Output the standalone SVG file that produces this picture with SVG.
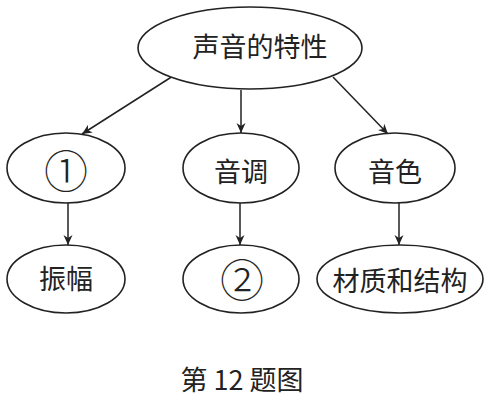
<svg xmlns="http://www.w3.org/2000/svg" width="490" height="397" viewBox="0 0 490 397">
<defs>
<style>
.n{fill:#fff;stroke:#222;stroke-width:1.6}
.t{font-family:"Noto Sans CJK SC","Noto Sans CJK JP",sans-serif;font-size:27px;fill:#222;text-anchor:middle;dominant-baseline:central}
.k{font-family:"Noto Sans CJK SC","Noto Sans CJK JP",sans-serif;font-size:44px;font-weight:300;fill:#222;text-anchor:middle;dominant-baseline:central}
.c{stroke:#222;stroke-width:1.5;fill:none;marker-end:url(#ah)}
</style>
<marker id="ah" viewBox="0 0 10 10" refX="10" refY="5" markerWidth="10" markerHeight="10" markerUnits="userSpaceOnUse" orient="auto">
<path d="M0,0.5 L10,5 L0,9.5 L3,5 Z" fill="#222"/>
</marker>
</defs>
<rect width="490" height="397" fill="#fff"/>
<g id="connectors">
<line class="c" x1="173" y1="76" x2="82" y2="134"/>
<line class="c" x1="241" y1="90" x2="241" y2="133"/>
<line class="c" x1="333" y1="77" x2="388" y2="134"/>
<line class="c" x1="68" y1="203" x2="68" y2="245"/>
<line class="c" x1="240" y1="203" x2="240" y2="245"/>
<line class="c" x1="399" y1="203" x2="399" y2="245"/>
</g>
<g id="root"><ellipse class="n" cx="250" cy="48" rx="112" ry="41"/><text class="t" x="260" y="45" font-size="29">声音的特性</text></g>
<g id="n1"><ellipse class="n" cx="66" cy="168" rx="59" ry="35"/><text class="k" x="66" y="169">①</text></g>
<g id="n2"><ellipse class="n" cx="241" cy="168" rx="58" ry="35"/><text class="t" x="241" y="170">音调</text></g>
<g id="n3"><ellipse class="n" cx="395" cy="168" rx="60" ry="35"/><text class="t" x="395" y="170">音色</text></g>
<g id="n4"><ellipse class="n" cx="66" cy="279" rx="59" ry="34"/><text class="t" x="66" y="277">振幅</text></g>
<g id="n5"><ellipse class="n" cx="241" cy="279" rx="58" ry="34"/><text class="k" x="242" y="278">②</text></g>
<g id="n6"><ellipse class="n" cx="400" cy="279" rx="83" ry="34"/><text class="t" x="400" y="279" font-size="28">材质和结构</text></g>
<text class="t" x="242" y="378" font-size="24">第 12 题图</text>
</svg>
